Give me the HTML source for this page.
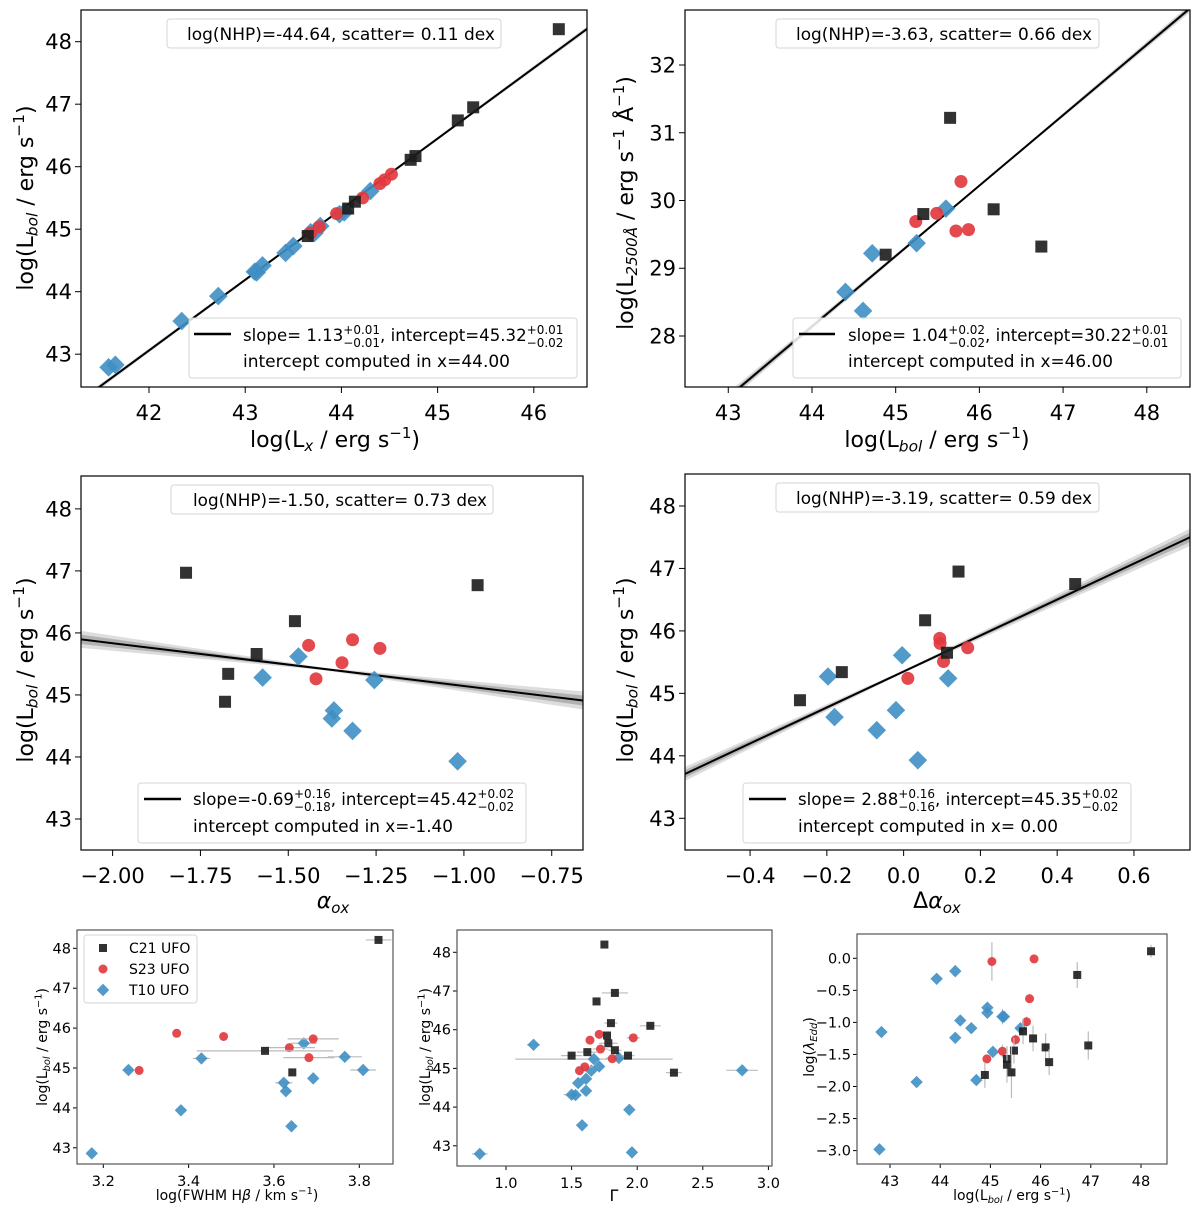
<!DOCTYPE html>
<html><head><meta charset="utf-8">
<style>
html,body{margin:0;padding:0;background:#fff;}
svg{display:block;font-family:"DejaVu Sans","Liberation Sans",sans-serif;}
</style></head>
<body>
<svg id="fig" width="1200" height="1211" viewBox="0 0 1200 1211" xmlns="http://www.w3.org/2000/svg"></svg>
<script>
// ===== Panel 1: L_bol vs L_x =====
const p1_c21_x=[46.26,45.37,45.21,44.77,44.72,44.14,44.07,43.65];
const p1_c21_y=[48.20,46.95,46.74,46.17,46.11,45.44,45.33,44.89];
const p1_s23_x=[44.52,44.45,44.40,44.22,43.95,43.77,43.68];
const p1_s23_y=[45.88,45.79,45.73,45.50,45.25,45.04,44.94];
const p1_t10_x=[44.30,44.03,43.98,43.78,43.72,43.50,43.42,43.18,43.10,43.12,42.72,42.34,41.65,41.58,43.68];
const p1_t10_y=[45.61,45.27,45.24,45.05,44.94,44.73,44.62,44.42,44.32,44.31,43.93,43.53,42.83,42.79,44.95];
const p1_fit=[1.13,0.01,45.32,0.015,44.0];
const p1_xticks=[42,43,44,45,46];
const p1_yticks=[43,44,45,46,47,48];
// ===== Panel 2: L2500 vs L_bol =====
const p2_c21_x=[45.65,45.33,46.17,44.88,46.74];
const p2_c21_y=[31.22,29.80,29.87,29.20,29.32];
const p2_s23_x=[45.78,45.49,45.24,45.72,45.87];
const p2_s23_y=[30.28,29.81,29.69,29.55,29.57];
const p2_t10_x=[45.60,45.25,44.72,44.40,44.61];
const p2_t10_y=[29.88,29.37,29.22,28.65,28.37];
const p2_fit=[1.04,0.02,30.22,0.01,46.0];
const p2_xticks=[43,44,45,46,47,48];
const p2_yticks=[28,29,30,31,32];
// ===== Panel 3: L_bol vs alpha_ox =====
const p3_c21_x=[-1.791,-0.961,-1.481,-1.590,-1.671,-1.680];
const p3_c21_y=[46.97,46.77,46.19,45.66,45.34,44.89];
const p3_s23_x=[-1.442,-1.317,-1.239,-1.347,-1.421];
const p3_s23_y=[45.80,45.89,45.75,45.52,45.26];
const p3_t10_x=[-1.471,-1.573,-1.255,-1.370,-1.376,-1.317,-1.018];
const p3_t10_y=[45.62,45.28,45.24,44.75,44.62,44.42,43.93];
const p3_fit=[-0.69,0.17,45.42,0.02,-1.40];
const p3_xticks=[-2.00,-1.75,-1.50,-1.25,-1.00,-0.75];
const p3_xlabels=["\u22122.00","\u22121.75","\u22121.50","\u22121.25","\u22121.00","\u22120.75"];
const p3_yticks=[43,44,45,46,47,48];
// ===== Panel 4: L_bol vs Delta alpha_ox =====
const p4_c21_x=[0.143,0.447,0.056,0.113,-0.161,-0.270];
const p4_c21_y=[46.95,46.75,46.17,45.65,45.34,44.89];
const p4_s23_x=[0.094,0.095,0.167,0.104,0.011];
const p4_s23_y=[45.88,45.80,45.73,45.51,45.24];
const p4_t10_x=[-0.004,-0.197,0.116,-0.020,-0.180,-0.070,0.037];
const p4_t10_y=[45.61,45.27,45.24,44.73,44.62,44.41,43.93];
const p4_fit=[2.88,0.16,45.35,0.02,0.0];
const p4_xticks=[-0.4,-0.2,0.0,0.2,0.4,0.6];
const p4_xlabels=["\u22120.4","\u22120.2","0.0","0.2","0.4","0.6"];
const p4_yticks=[43,44,45,46,47,48];
// ===== Panel 5: L_bol vs FWHM =====
const p5_c21_x=[3.845,3.579,3.643];
const p5_c21_y=[48.21,45.43,44.89];
const p5_c21_xe=[0.03,0.16,0];
const p5_s23_x=[3.372,3.482,3.692,3.636,3.682,3.284];
const p5_s23_y=[45.87,45.79,45.73,45.51,45.26,44.94];
const p5_s23_xe=[0,0,0.06,0.06,0.06,0];
const p5_t10_x=[3.670,3.766,3.809,3.692,3.623,3.628,3.641,3.430,3.259,3.382,3.173];
const p5_t10_y=[45.62,45.28,44.95,44.74,44.63,44.42,43.54,45.24,44.95,43.94,42.86];
const p5_t10_xe=[0.03,0.04,0.03,0,0.02,0.01,0,0.02,0.01,0,0];
const p5_xticks=[3.2,3.4,3.6,3.8];
const p5_yticks=[43,44,45,46,47,48];
// ===== Panel 6: L_bol vs Gamma =====
const p6_c21_x=[1.75,1.83,1.69,1.80,2.10,1.77,1.78,1.83,1.62,1.50,1.93,2.28];
const p6_c21_y=[48.20,46.95,46.73,46.17,46.10,45.85,45.65,45.47,45.42,45.33,45.33,44.89];
const p6_c21_xe=[0,0.1,0,0.05,0.08,0,0.07,0.05,0.08,0.08,0.05,0.06];
const p6_s23_x=[1.71,1.64,1.97,1.72,1.81,1.60,1.56];
const p6_s23_y=[45.88,45.73,45.79,45.50,45.25,45.04,44.94];
const p6_s23_xe=[0,0,0.05,0.06,0,0.06,0];
const p6_t10_x=[1.21,1.67,1.86,1.71,1.65,1.61,1.55,1.50,1.53,1.61,1.94,1.58,0.80,1.96,2.80];
const p6_t10_y=[45.61,45.24,45.27,45.05,44.94,44.73,44.62,44.32,44.31,44.42,43.93,43.53,42.79,42.83,44.95];
const p6_t10_xe=[0.05,0.6,0.1,0,0,0,0,0.06,0,0,0,0,0.06,0,0.12];
const p6_xticks=[1.0,1.5,2.0,2.5,3.0];
const p6_xlabels=["1.0","1.5","2.0","2.5","3.0"];
const p6_yticks=[43,44,45,46,47,48];
// ===== Panel 7: lambda_Edd vs L_bol =====
const p7_c21_x=[48.20,46.73,46.95,46.10,46.17,45.85,45.65,45.47,45.33,45.33,45.42,44.89];
const p7_c21_y=[0.11,-0.26,-1.36,-1.39,-1.62,-1.25,-1.14,-1.44,-1.57,-1.66,-1.78,-1.82];
const p7_c21_ye=[0.1,0.2,0.22,0.22,0.2,0.2,0.2,0.2,0.2,0.28,0.4,0.2];
const p7_s23_x=[45.03,45.87,45.78,45.72,45.50,45.24,44.93];
const p7_s23_y=[-0.05,-0.01,-0.63,-0.99,-1.27,-1.45,-1.57];
const p7_s23_ye=[0.3,0,0,0.08,0.08,0.1,0];
const p7_t10_x=[44.30,43.93,44.94,44.94,44.40,45.24,45.27,44.62,45.60,42.83,44.30,45.05,44.72,43.53,42.79];
const p7_t10_y=[-0.20,-0.32,-0.77,-0.85,-0.97,-0.91,-0.91,-1.09,-1.09,-1.15,-1.24,-1.46,-1.90,-1.93,-2.98];
const p7_t10_ye=[0,0,0,0,0,0.12,0,0,0,0,0,0,0,0,0];
const p7_xticks=[43,44,45,46,47,48];
const p7_yticks=[0.0,-0.5,-1.0,-1.5,-2.0,-2.5,-3.0];
const p7_ylabels=["0.0","\u22120.5","\u22121.0","\u22121.5","\u22122.0","\u22122.5","\u22123.0"];

const NS='http://www.w3.org/2000/svg';
const svg=document.getElementById('fig');
function mk(tag,attrs,parent){const e=document.createElementNS(NS,tag);for(const k in attrs)e.setAttribute(k,attrs[k]);(parent||svg).appendChild(e);return e;}
function scaler(P){return {sx:v=>P.L+(v-P.xmin)/(P.xmax-P.xmin)*(P.R-P.L), sy:v=>P.B-(v-P.ymin)/(P.ymax-P.ymin)*(P.B-P.T)};}

const C21='#1c1c1c', S23='#e23a3f', T10='#3f8fc4';

function frame(P,name,xt,xl,yt,yl,big){
  const g=mk('g',{});
  
  
  const s=scaler(P);
  const fs=big?21:14.5, tl=big?6:4;
  const clip=mk('clipPath',{id:'clip-'+name},g);
  mk('rect',{x:P.L,y:P.T,width:P.R-P.L,height:P.B-P.T},clip);
  const plot=mk('g',{'clip-path':'url(#clip-'+name+')'},g);
  
  
  xt.forEach((v,i)=>{
    const x=s.sx(v);
    const t=mk('line',{x1:x,x2:x,y1:P.B,y2:P.B+tl,stroke:'#000','stroke-width':1},g);
    
    
    const lb=mk('text',{x:x,y:P.B+(big?33:22),'font-size':fs,'text-anchor':'middle',fill:'#000'},g);
    lb.textContent=xl?xl[i]:String(v);
    
    
  });
  yt.forEach((v,i)=>{
    const y=s.sy(v);
    const t=mk('line',{x1:P.L-tl,x2:P.L,y1:y,y2:y,stroke:'#000','stroke-width':1},g);
    
    
    const lb=mk('text',{x:P.L-(big?9:6),y:y+(big?7.5:5),'font-size':fs,'text-anchor':'end',fill:'#000'},g);
    lb.textContent=yl?yl[i]:String(v);
    
    
  });
  return {g,plot,s};
}
function border(F,P,color){
  const r=mk('rect',{x:P.L,y:P.T,width:P.R-P.L,height:P.B-P.T,fill:'none',stroke:color||'#000','stroke-width':1.2},F.g);
  
  
}
function fitLine(F,P,fit){
  const [m,me,b,be,x0]=fit;
  const n=40, up1=[],lo1=[],up2=[],lo2=[];
  for(let i=0;i<=n;i++){
    const x=P.xmin+(P.xmax-P.xmin)*i/n, d=x-x0, y=b+m*d;
    const e=be+me*Math.abs(d);
    up1.push([F.s.sx(x),F.s.sy(y+1.0*e)]);lo1.push([F.s.sx(x),F.s.sy(y-1.0*e)]);
    up2.push([F.s.sx(x),F.s.sy(y+0.55*e)]);lo2.push([F.s.sx(x),F.s.sy(y-0.55*e)]);
  }
  const pts=(u,l)=>u.concat(l.reverse()).map(p=>p.join(',')).join(' ');
  const b1=mk('polygon',{points:pts(up1,lo1),fill:'#d4d4d4',opacity:0.8},F.plot);
  
  
  const b2=mk('polygon',{points:pts(up2,lo2),fill:'#a8a8a8',opacity:0.8},F.plot);
  
  
  const l=mk('line',{x1:F.s.sx(P.xmin),y1:F.s.sy(b+m*(P.xmin-x0)),x2:F.s.sx(P.xmax),y2:F.s.sy(b+m*(P.xmax-x0)),stroke:'#000','stroke-width':2},F.plot);
  
  
}
function marker(parent,kind,cx,cy,sz){
  let e;
  if(kind==='sq') e=mk('rect',{x:cx-sz/2,y:cy-sz/2,width:sz,height:sz,fill:C21,'fill-opacity':0.9},parent);
  else if(kind==='ci') e=mk('circle',{cx:cx,cy:cy,r:sz/2,fill:S23,'fill-opacity':0.92},parent);
  else { const h=sz*0.62; e=mk('polygon',{points:`${cx},${cy-h} ${cx+h},${cy} ${cx},${cy+h} ${cx-h},${cy}`,fill:T10,'fill-opacity':0.9},parent); }
  return e;
}
function series(F,xs,ys,kind,sz,name,xe,ye){
  const g=mk('g',{},F.plot);
  
  
  xs.forEach((x,i)=>{
    const cx=F.s.sx(x), cy=F.s.sy(ys[i]);
    if(xe&&xe[i]){const e=mk('line',{x1:F.s.sx(x-xe[i]),x2:F.s.sx(x+xe[i]),y1:cy,y2:cy,stroke:'#bbb','stroke-width':1.2},g);
      
      }
    if(ye&&ye[i]){const e=mk('line',{x1:cx,x2:cx,y1:F.s.sy(ys[i]-ye[i]),y2:F.s.sy(ys[i]+ye[i]),stroke:'#bbb','stroke-width':1.2},g);
      
      }
    const m=marker(g,kind,cx,cy,sz);
    
    
  });
}
function box(parent,x,y,w,h,name){
  const r=mk('rect',{x:x,y:y,width:w,height:h,rx:3,fill:'#fff','fill-opacity':0.85,stroke:'#d6d6d6','stroke-width':1},parent);
  
  
}
function txt(parent,x,y,s,fs,name,len){
  const a={x:x,y:y,'font-size':fs,fill:'#000'};
  if(len){a.textLength=len;a.lengthAdjust='spacingAndGlyphs';}
  const t=mk('text',a,parent);t.textContent=s;
  
  
  return t;
}
function nhp(F,x,y,w,tx,tb,tw,s){
  box(F.g,x,y,w,29,'stats-box');
  txt(F.g,tx,tb,s,17,'stats-text',tw);
}
function fitLegend(F,bx,by,bw,lx1,lx2,ly,tx,b1,b2,l2w,slope,sp,sm,icpt,ip,im,l2){
  box(F.g,bx,by,bw,60,'fit-legend');
  const ln=mk('line',{x1:lx1,x2:lx2,y1:ly,y2:ly,stroke:'#000','stroke-width':2.5},F.g);
  
  
  const t=mk('text',{x:tx,y:b1,'font-size':16.6,fill:'#000'},F.g);
  
  
  t.innerHTML=`slope=${slope}<tspan font-size="12" dy="-7">${sp}</tspan><tspan font-size="12" dx="-36.8" dy="13">${sm}</tspan><tspan dy="-6">, intercept=${icpt}</tspan><tspan font-size="12" dy="-7">${ip}</tspan><tspan font-size="12" dx="-36.8" dy="13">${im}</tspan>`;
  txt(F.g,tx,b2,l2,17,'fit-legend-intercept-text',l2w);
}
function xlabel(F,x,y,html,fs,name){
  const t=mk('text',{x:x,y:y,'font-size':fs,'text-anchor':'middle',fill:'#000'},F.g);
  t.innerHTML=html;
  
  
}
function ylabel(F,x,y,html,fs,name){
  const t=mk('text',{x:0,y:0,'font-size':fs,'text-anchor':'middle',fill:'#000',transform:`translate(${x},${y}) rotate(-90)`},F.g);
  t.innerHTML=html;
  
  
}
const LBOL=(fs)=>`log(L<tspan font-size="${fs*0.7}" font-style="italic" dy="${fs*0.2}">bol</tspan><tspan dy="${-fs*0.2}"> / erg s</tspan><tspan font-size="${fs*0.7}" dy="${-fs*0.4}">\u22121</tspan><tspan dy="${fs*0.4}">)</tspan>`;

// Panel 1
const P1={L:81,R:587,T:10,B:387,xmin:41.293,xmax:46.553,ymin:42.475,ymax:48.507};
const F1=frame(P1,'panel-lbol-vs-lx',p1_xticks,null,p1_yticks,null,true);
fitLine(F1,P1,p1_fit);
series(F1,p1_t10_x,p1_t10_y,'di',15,'t10-ufo');
series(F1,p1_s23_x,p1_s23_y,'ci',13,'s23-ufo');
series(F1,p1_c21_x,p1_c21_y,'sq',12,'c21-ufo');
border(F1,P1);
nhp(F1,167,19,334,187,40,308,'log(NHP)=-44.64, scatter= 0.11 dex');
fitLegend(F1,189,318,388,194,231,334,243,341,367,267,' 1.13','+0.01','\u22120.01','45.32','+0.01','\u22120.02','intercept computed in x=44.00');
xlabel(F1,335,447,`log(L<tspan font-size="15" font-style="italic" dy="4">x</tspan><tspan dy="-4"> / erg s</tspan><tspan font-size="15" dy="-9">\u22121</tspan><tspan dy="9">)</tspan>`,22);
ylabel(F1,33,198,LBOL(22),22);

// Panel 2
const P2={L:685,R:1190,T:10,B:387,xmin:42.483,xmax:48.516,ymin:27.247,ymax:32.812};
const F2=frame(P2,'panel-l2500-vs-lbol',p2_xticks,null,p2_yticks,null,true);
fitLine(F2,P2,p2_fit);
series(F2,p2_t10_x,p2_t10_y,'di',15,'t10-ufo');
series(F2,p2_s23_x,p2_s23_y,'ci',13,'s23-ufo');
series(F2,p2_c21_x,p2_c21_y,'sq',12,'c21-ufo');
border(F2,P2);
nhp(F2,776,19,323,796,40,296,'log(NHP)=-3.63, scatter= 0.66 dex');
fitLegend(F2,793,318,388,799,835,334,848,341,367,265,' 1.04','+0.02','\u22120.02','30.22','+0.01','\u22120.01','intercept computed in x=46.00');
xlabel(F2,937,447,LBOL(22),22);
ylabel(F2,633,203,`log(L<tspan font-size="15" font-style="italic" dy="4">2500Å</tspan><tspan dy="-4"> / erg s</tspan><tspan font-size="15" dy="-9">\u22121</tspan><tspan dy="9"> Å</tspan><tspan font-size="15" dy="-9">\u22121</tspan><tspan dy="9">)</tspan>`,22);

// Panel 3
const P3={L:81,R:583,T:476,B:850,xmin:-2.090,xmax:-0.661,ymin:42.50,ymax:48.53};
const F3=frame(P3,'panel-lbol-vs-alphaox',p3_xticks,p3_xlabels,p3_yticks,null,true);
fitLine(F3,P3,p3_fit);
series(F3,p3_t10_x,p3_t10_y,'di',15,'t10-ufo');
series(F3,p3_s23_x,p3_s23_y,'ci',13,'s23-ufo');
series(F3,p3_c21_x,p3_c21_y,'sq',12,'c21-ufo');
border(F3,P3);
nhp(F3,171,485,322,193,506,294,'log(NHP)=-1.50, scatter= 0.73 dex');
fitLegend(F3,138,783,388,144,181,799,193,805,832,260,'-0.69','+0.16','\u22120.18','45.42','+0.02','\u22120.02','intercept computed in x=-1.40');
xlabel(F3,333,908,`<tspan font-style="italic">α</tspan><tspan font-size="15" font-style="italic" dy="5">ox</tspan>`,22);
ylabel(F3,33,670,LBOL(22),22);

// Panel 4
const P4={L:685,R:1190,T:474,B:850,xmin:-0.5695,xmax:0.746,ymin:42.492,ymax:48.512};
const F4=frame(P4,'panel-lbol-vs-delta-alphaox',p4_xticks,p4_xlabels,p4_yticks,null,true);
fitLine(F4,P4,p4_fit);
series(F4,p4_t10_x,p4_t10_y,'di',15,'t10-ufo');
series(F4,p4_s23_x,p4_s23_y,'ci',13,'s23-ufo');
series(F4,p4_c21_x,p4_c21_y,'sq',12,'c21-ufo');
border(F4,P4);
nhp(F4,776,483,323,796,504,296,'log(NHP)=-3.19, scatter= 0.59 dex');
fitLegend(F4,743,783,388,749,786,799,798,805,832,260,' 2.88','+0.16','\u22120.16','45.35','+0.02','\u22120.02','intercept computed in x= 0.00');
xlabel(F4,937,908,`Δ<tspan font-style="italic">α</tspan><tspan font-size="15" font-style="italic" dy="5">ox</tspan>`,22);
ylabel(F4,633,670,LBOL(22),22);

// Panel 5
const P5={L:77,R:393,T:930,B:1164,xmin:3.1384,xmax:3.879,ymin:42.594,ymax:48.459};
const F5=frame(P5,'panel-lbol-vs-fwhm',p5_xticks,null,p5_yticks,null,false);
series(F5,p5_t10_x,p5_t10_y,'di',10,'t10-ufo',p5_t10_xe);
series(F5,p5_s23_x,p5_s23_y,'ci',9,'s23-ufo',p5_s23_xe);
series(F5,p5_c21_x,p5_c21_y,'sq',8,'c21-ufo',p5_c21_xe);
border(F5,P5,'#555');
xlabel(F5,237,1200,`log(FWHM H<tspan font-style="italic">β</tspan> / km s<tspan font-size="10" dy="-6">\u22121</tspan><tspan dy="6">)</tspan>`,14);
ylabel(F5,47,1047,LBOL(14),14);
const lg=mk('g',{},F5.g);


box(lg,84,935,113,68,'legend-box');
[['sq','C21 UFO',948],['ci','S23 UFO',969],['di','T10 UFO',990]].forEach(([k,l,y])=>{
  const e=mk('g',{},lg);
  
  
  marker(e,k,103,y,k==='di'?10:(k==='ci'?9:8));
  txt(e,129,y+5,l,14,'legend-label');
});

// Panel 6
const P6={L:457,R:772,T:930,B:1166,xmin:0.6265,xmax:3.0274,ymin:42.478,ymax:48.576};
const F6=frame(P6,'panel-lbol-vs-gamma',p6_xticks,p6_xlabels,p6_yticks,null,false);
series(F6,p6_t10_x,p6_t10_y,'di',10,'t10-ufo',p6_t10_xe);
series(F6,p6_s23_x,p6_s23_y,'ci',9,'s23-ufo',p6_s23_xe);
series(F6,p6_c21_x,p6_c21_y,'sq',8,'c21-ufo',p6_c21_xe);
border(F6,P6,'#555');
xlabel(F6,614,1201,'Γ',16);
ylabel(F6,430,1047,LBOL(14),14);

// Panel 7
const P7={L:857,R:1167,T:934,B:1164,xmin:42.343,xmax:48.518,ymin:-3.209,ymax:0.379};
const F7=frame(P7,'panel-eddington-vs-lbol',p7_xticks,null,p7_yticks,p7_ylabels,false);
series(F7,p7_t10_x,p7_t10_y,'di',10,'t10-ufo',null,p7_t10_ye);
series(F7,p7_s23_x,p7_s23_y,'ci',9,'s23-ufo',null,p7_s23_ye);
series(F7,p7_c21_x,p7_c21_y,'sq',8,'c21-ufo',null,p7_c21_ye);
border(F7,P7,'#555');
xlabel(F7,1012,1200,LBOL(14),14);
ylabel(F7,814,1047,`log(<tspan font-style="italic">λ</tspan><tspan font-size="10" font-style="italic" dy="3">Edd</tspan><tspan dy="-3">)</tspan>`,14);
</script>
</body></html>
